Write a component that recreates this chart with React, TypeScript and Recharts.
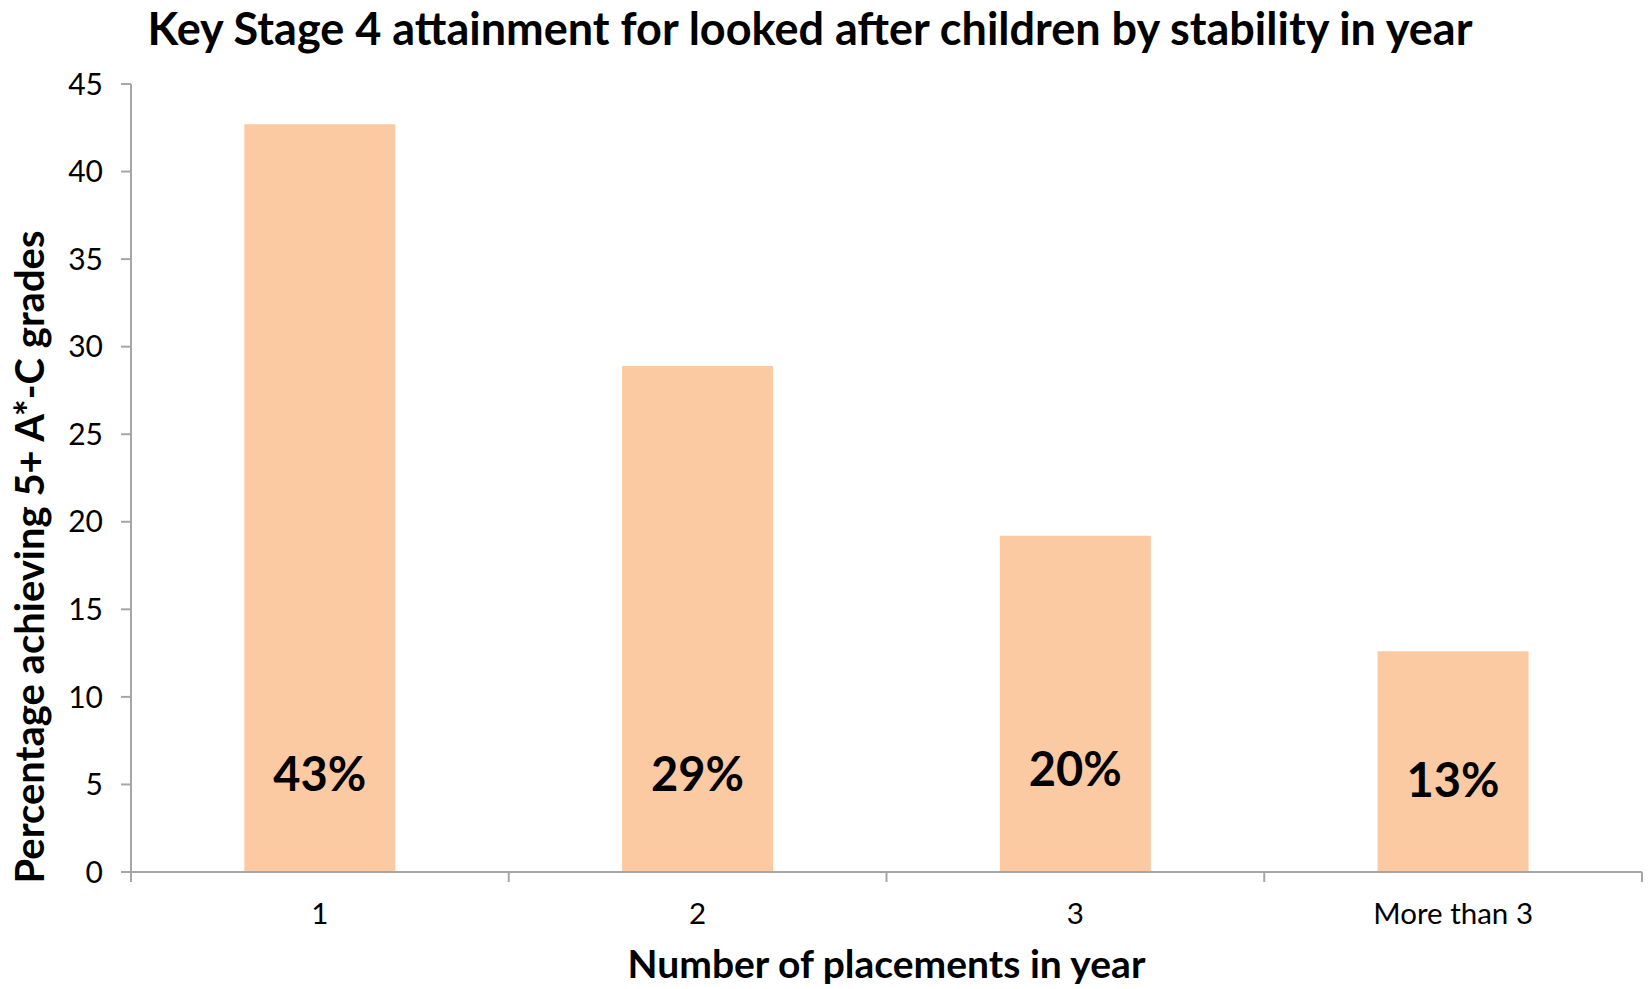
import React from 'react';
import { BarChart, Bar, XAxis, YAxis, LabelList, Label } from 'recharts';

const placements = ['1', '2', '3', 'More than 3'];
const attainment = [42.7, 28.9, 19.2, 12.6];
const barLabels = ['43%', '29%', '20%', '13%'];
const labelHeights = [5.65, 5.65, 5.95, 5.3];
const yTicks = [0, 5, 10, 15, 20, 25, 30, 35, 40, 45];

const data = placements.map((name, i) => ({
  name,
  value: attainment[i],
  label: barLabels[i],
  labelAt: labelHeights[i],
}));

const FONT = 'Lato, "Open Sans", sans-serif';
const AXIS = '#a6a6a6';

const XTick = (props: any) => {
  const { x, y, payload, index, visibleTicksCount, width } = props;
  const half = payload.offset || width / (2 * placements.length);
  return (
    <g>
      <line x1={x - half} y1={y - 8} x2={x - half} y2={y + 2} stroke={AXIS} strokeWidth={2} />
      {index === visibleTicksCount - 1 && (
        <line x1={x + half} y1={y - 8} x2={x + half} y2={y + 2} stroke={AXIS} strokeWidth={2} />
      )}
      <text x={x} y={y + 44} textAnchor="middle" fontSize={29.5} fontFamily={FONT} fill="#000">
        {payload.value}
      </text>
    </g>
  );
};

const BarText = (props: any) => {
  const { x, y, width, height, index } = props;
  const d = data[index];
  const bottom = y + height;
  const ty = bottom - (d.labelAt * height) / d.value;
  return (
    <text
      x={x + width / 2}
      y={ty}
      textAnchor="middle"
      dominantBaseline="central"
      fontSize={47}
      fontWeight="bold"
      fontFamily={FONT}
      fill="#000"
    >
      {d.label}
    </text>
  );
};

export default function App() {
  return (
    <div style={{ position: 'absolute', left: 0, top: 0, width: 1648, height: 989, background: '#fff' }}>
      <div
        style={{
          position: 'absolute',
          left: 0,
          width: 1620,
          top: 0,
          textAlign: 'center',
          fontFamily: FONT,
          fontWeight: 'bold',
          fontSize: 45,
          lineHeight: '56px',
          color: '#000',
        }}
      >
        Key Stage 4 attainment for looked after children by stability in year
      </div>
      <BarChart
        width={1648}
        height={989}
        data={data}
        margin={{ top: 84, right: 6, left: 0, bottom: 0 }}
        barCategoryGap="30%"
      >
        <XAxis
          dataKey="name"
          height={117}
          axisLine={{ stroke: AXIS, strokeWidth: 2 }}
          tickLine={false}
          tick={<XTick />}
          interval={0}
        >
          <Label
            content={(p: any) => (
              <text
                x={p.viewBox.x + p.viewBox.width / 2}
                y={963}
                textAnchor="middle"
                dominantBaseline="central"
                fontSize={39}
                fontWeight="bold"
                fontFamily={FONT}
                fill="#000"
              >
                Number of placements in year
              </text>
            )}
          />
        </XAxis>
        <YAxis
          width={131}
          domain={[0, 45]}
          ticks={yTicks}
          interval={0}
          axisLine={{ stroke: AXIS, strokeWidth: 2 }}
          tickLine={{ stroke: AXIS, strokeWidth: 2 }}
          tickSize={10}
          tickMargin={18}
          tick={{ fill: '#000', fontSize: 30, fontFamily: FONT }}
        >
          <Label
            content={() => {
              const cx = 29;
              const cy = 557;
              return (
                <text
                  x={cx}
                  y={cy}
                  transform={`rotate(-90 ${cx} ${cy})`}
                  textAnchor="middle"
                  dominantBaseline="central"
                  fontSize={40}
                  fontWeight="bold"
                  fontFamily={FONT}
                  fill="#000"
                >
                  Percentage achieving 5+ A*-C grades
                </text>
              );
            }}
          />
        </YAxis>
        <Bar dataKey="value" fill="#fbcaa2" isAnimationActive={false}>
          <LabelList dataKey="label" content={<BarText />} />
        </Bar>
      </BarChart>
    </div>
  );
}
